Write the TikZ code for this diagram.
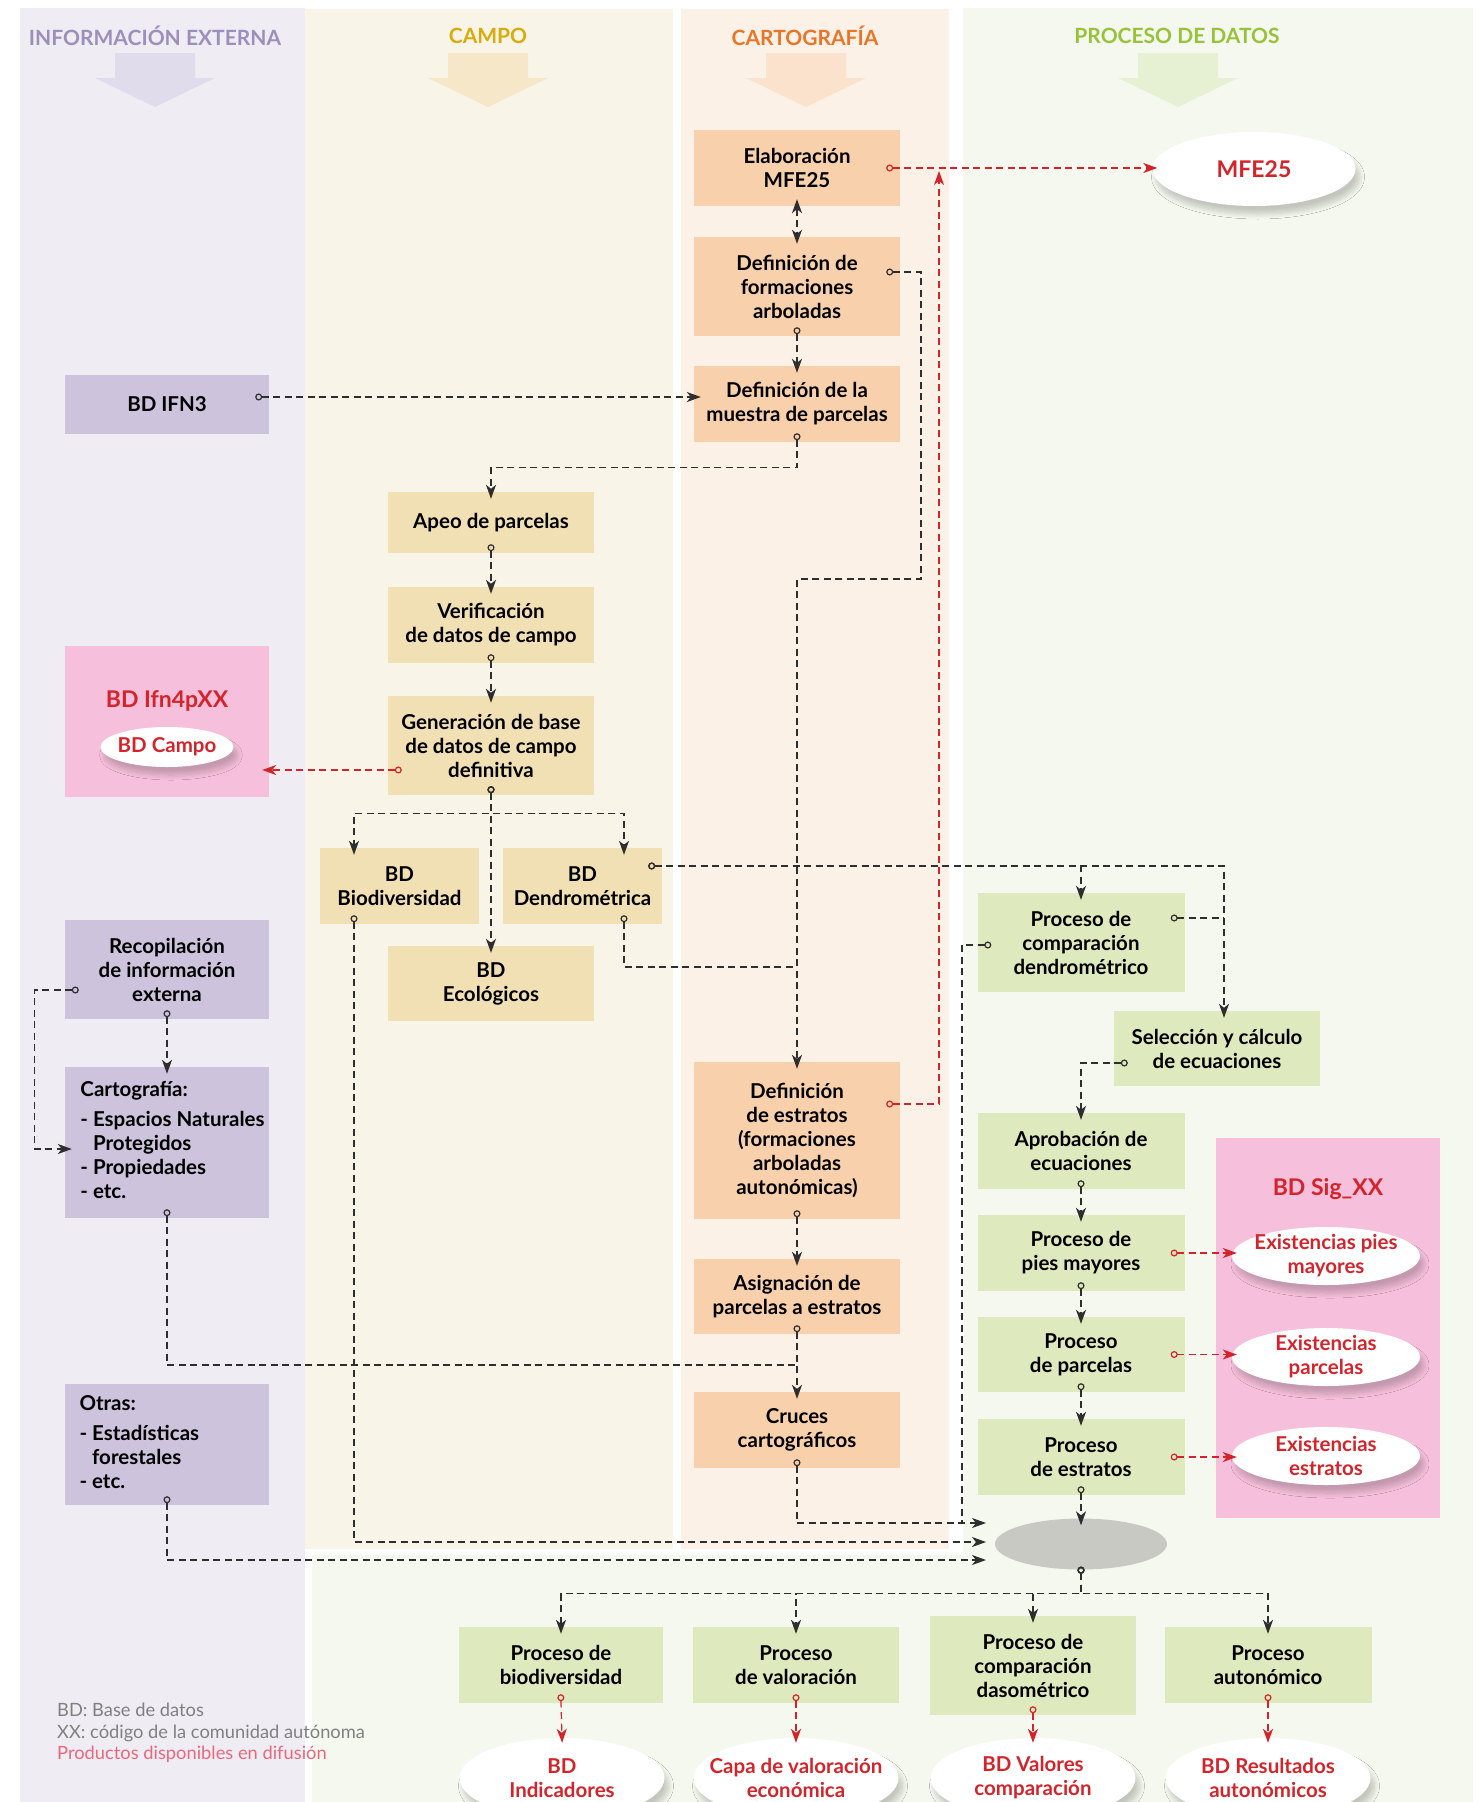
\documentclass[tikz,border=0pt]{standalone}
\usepackage{fontspec}
\setmainfont{Lato}
\usepackage{xcolor}
\usepackage{tikz}
\usetikzlibrary{
  shapes.geometric, arrows.meta, positioning, calc, shadows.blur
}

\definecolor{infobg}{HTML}{EFECF3}
\definecolor{campobg}{HTML}{F9F4E8}
\definecolor{cartobg}{HTML}{FCF1E7}
\definecolor{procbg}{HTML}{F5F8EE}
\definecolor{infofill}{HTML}{CEC3DC}
\definecolor{campofill}{HTML}{F2E0B5}
\definecolor{cartofill}{HTML}{F8D0AB}
\definecolor{procfill}{HTML}{DFE9BE}
\definecolor{pinkfill}{HTML}{F6BFDB}
\definecolor{prodred}{HTML}{D3242B}
\definecolor{notered}{HTML}{E8697C}
\definecolor{notegray}{HTML}{808080}
\definecolor{grayoval}{HTML}{C9C9C4}
\definecolor{infohead}{HTML}{9D8FBB}
\definecolor{campohead}{HTML}{D8AC0C}
\definecolor{cartohead}{HTML}{E8762A}
\definecolor{prochead}{HTML}{98C23A}
\definecolor{infoarrow}{HTML}{E1DCEB}
\definecolor{campoarrow}{HTML}{F5E7C7}
\definecolor{cartoarrow}{HTML}{FBE2CC}
\definecolor{procarrow}{HTML}{E6F0D3}
\definecolor{linkgray}{HTML}{2E2E2E}

\newcommand{\boxfont}{\fontsize{20.5}{24}\selectfont\bfseries}
\newcommand{\titlefont}{\fontsize{23}{27}\selectfont\bfseries}
\newcommand{\headfont}{\fontsize{21}{25}\selectfont\bfseries}
\newcommand{\notefont}{\fontsize{18.3}{21.5}\selectfont}

\tikzset{
  flowdot/.tip={Circle[open,length=7pt,width=7pt]},
  flowtip/.tip={Stealth[length=14pt,width=10pt,inset=4pt]},
  lanebox/.style={
    rectangle, align=center, font=\boxfont, inner sep=2pt,
    minimum width=206pt
  },
  infobox/.style={lanebox, fill=infofill, minimum width=204pt},
  campobox/.style={lanebox, fill=campofill},
  cartobox/.style={lanebox, fill=cartofill},
  procbox/.style={lanebox, fill=procfill},
  pinkbox/.style={rectangle, fill=pinkfill, inner sep=0pt},
  pinktitle/.style={font=\titlefont, text=prodred},
  prodoval/.style={
    ellipse, fill=white, text=prodred, align=center, font=\boxfont,
    inner xsep=-30pt, inner ysep=-12pt,
    blur shadow={shadow xshift=4pt, shadow yshift=-8pt,
      shadow blur radius=5pt, shadow blur steps=10, shadow opacity=20}
  },
  lanehead/.style={font=\headfont},
  flowline/.style={
    draw=linkgray, line width=1.2pt, dash pattern=on 7pt off 4.5pt,
    flowdot-, shorten <=-9pt
  },
  flowarrow/.style={flowline, flowdot-flowtip, shorten >=-7pt},
  prodarrow/.style={flowarrow, draw=prodred},
  sidestart/.style={shorten <=-14pt},
  freeend/.style={shorten >=0pt},
  intooval/.style={shorten >=-5pt},
}

\begin{document}
\begin{tikzpicture}[x=1pt, y=-1pt]
  \useasboundingbox (0,0) rectangle (1478,1802);
  \clip (0,0) rectangle (1478,1802);

  % --- Lanes ---
  \fill[infobg] (20,8) rectangle (305,1802);
  \fill[campobg] (305,9) rectangle (673,1549);
  \fill[cartobg] (681,9) rectangle (949,1549);
  \fill[procbg] (963,8) -- (1473,8) -- (1473,1802) -- (312,1802)
    -- (312,1555) -- (963,1555) -- cycle;

  \node[lanehead, text=infohead] (hinfo) at (155,36) {INFORMACIÓN EXTERNA};
  \node[lanehead, text=campohead] (hcampo) at (488,36) {CAMPO};
  \node[lanehead, text=cartohead] (hcarto) at (805,36) {CARTOGRAFÍA};
  \node[lanehead, text=prochead] (hproc) at (1177,36) {PROCESO DE DATOS};

  \fill[infoarrow] (115,53) -- ++(80,0) -- ++(0,25) -- ++(20,0) -- ++(-60,29)
    -- ++(-60,-29) -- ++(20,0) -- cycle;
  \fill[campoarrow] (448,53) -- ++(80,0) -- ++(0,25) -- ++(20,0) -- ++(-60,29)
    -- ++(-60,-29) -- ++(20,0) -- cycle;
  \fill[cartoarrow] (766,53) -- ++(80,0) -- ++(0,25) -- ++(20,0) -- ++(-60,29)
    -- ++(-60,-29) -- ++(20,0) -- cycle;
  \fill[procarrow] (1138,53) -- ++(80,0) -- ++(0,25) -- ++(20,0) -- ++(-60,29)
    -- ++(-60,-29) -- ++(20,0) -- cycle;

  % --- Información externa ---
  \node[infobox, minimum height=59pt] (ifn3) at (167,404) {BD IFN3};
  \node[pinkbox, minimum width=204pt, minimum height=151pt] (ifn4) at (167,721.5) {};
  \node[pinktitle] (ifn4t) at (167,701) {BD Ifn4pXX};
  \node[prodoval, minimum width=133pt, minimum height=40pt] (campodb) at (167,747) {BD Campo};
  \node[infobox, minimum height=99pt] (recop) at (167,969.5) {Recopilación\\de información\\externa};
  \node[infobox, minimum height=151pt] (cartoext) at (167,1142.5)
    {\begin{tabular}{@{\hspace{11pt}}l@{}}
    Cartografía:\\[6pt]
    - Espacios Naturales\\
    \hphantom{- }Protegidos\\
    - Propiedades\\
    - etc.
    \end{tabular}};
  \node[infobox, minimum height=121pt] (otras) at (167,1444.5)
    {\begin{tabular}{@{\hspace{11pt}}p{186pt}@{}}
    Otras:\\[6pt]
    - Estadísticas\\
    \hphantom{- }forestales\\
    - etc.
    \end{tabular}};

  % --- Campo ---
  \node[campobox, minimum height=61pt] (apeo) at (491,522.5) {Apeo de parcelas};
  \node[campobox, minimum height=76pt] (verif) at (491,625) {Verificación\\de datos de campo};
  \node[campobox, minimum height=99pt] (gener) at (491,745.5) {Generación de base\\de datos de campo\\definitiva};
  \node[campobox, minimum width=159pt, minimum height=76pt] (biodiv) at (399.5,886) {BD\\Biodiversidad};
  \node[campobox, minimum width=159pt, minimum height=76pt] (dendro) at (582.5,886) {BD\\Dendrométrica};
  \node[campobox, minimum height=75pt] (ecolog) at (491,983.5) {BD\\Ecológicos};

  % --- Cartografía ---
  \node[cartobox, minimum height=76pt] (elab) at (797,168) {Elaboración\\MFE25};
  \node[cartobox, minimum height=99pt] (defform) at (797,286.5) {Definición de\\formaciones\\arboladas};
  \node[cartobox, minimum height=76pt] (defmuestra) at (797,404) {Definición de la\\muestra de parcelas};
  \node[cartobox, minimum height=157pt] (defestr) at (797,1140.5)
    {Definición\\de estratos\\(formaciones\\arboladas\\autonómicas)};
  \node[cartobox, minimum height=75pt] (asign) at (797,1296.5) {Asignación de\\parcelas a estratos};
  \node[cartobox, minimum height=76pt] (cruces) at (797,1430) {Cruces\\cartográficos};

  % --- Proceso de datos ---
  \node[prodoval, font=\titlefont, minimum width=203pt, minimum height=74pt] (mfe) at (1254,169) {MFE25};
  \node[procbox, minimum width=207pt, minimum height=99pt] (compdendro) at (1081,942.5)
    {Proceso de\\comparación\\dendrométrico};
  \node[procbox, minimum height=75pt] (selec) at (1217,1048.5) {Selección y cálculo\\de ecuaciones};
  \node[procbox, minimum width=207pt, minimum height=76pt] (aprob) at (1081,1151) {Aprobación de\\ecuaciones};
  \node[procbox, minimum width=207pt, minimum height=76pt] (pies) at (1081,1253) {Proceso de\\pies mayores};
  \node[procbox, minimum width=207pt, minimum height=75pt] (parc) at (1081,1354.5) {Proceso\\de parcelas};
  \node[procbox, minimum width=207pt, minimum height=76pt] (estr) at (1081,1457) {Proceso\\de estratos};
  \node[ellipse, fill=grayoval, minimum width=172pt, minimum height=51pt, inner sep=0pt] (merge) at (1081,1544) {};

  \node[pinkbox, minimum width=224pt, minimum height=380pt] (sig) at (1328,1328) {};
  \node[pinktitle] (sigt) at (1328,1189) {BD Sig\_XX};
  \node[prodoval, minimum width=188pt, minimum height=58pt] (expies) at (1326,1256) {Existencias pies\\mayores};
  \node[prodoval, minimum width=188pt, minimum height=58pt] (exparc) at (1326,1357) {Existencias\\parcelas};
  \node[prodoval, minimum width=188pt, minimum height=58pt] (exestr) at (1326,1456) {Existencias\\estratos};

  \node[procbox, minimum width=204pt, minimum height=76pt] (pbio) at (561,1665) {Proceso de\\biodiversidad};
  \node[procbox, minimum height=76pt] (pval) at (796,1665) {Proceso\\de valoración};
  \node[procbox, minimum height=99pt] (pdas) at (1033,1665.5) {Proceso de\\comparación\\dasométrico};
  \node[procbox, minimum width=207pt, minimum height=76pt] (paut) at (1268,1665) {Proceso\\autonómico};

  \node[prodoval, minimum width=205pt, minimum height=80pt] (obio) at (562,1778) {BD\\Indicadores};
  \node[prodoval, minimum width=205pt, minimum height=80pt] (oval) at (796,1778) {Capa de valoración\\económica};
  \node[prodoval, minimum width=205pt, minimum height=80pt] (odas) at (1033,1778) {BD Valores\\comparación};
  \node[prodoval, minimum width=205pt, minimum height=80pt] (oaut) at (1268,1778) {BD Resultados\\autonómicos};

  % --- Notes ---
  \node[font=\notefont, text=notegray, align=left, anchor=west, inner sep=0pt] (notes) at (57,1733)
    {BD: Base de datos\\XX: código de la comunidad autónoma\\
    \textcolor{notered}{Productos disponibles en difusión}};

  % --- Join points ---
  \coordinate (redup) at (939,171);
  \coordinate (jogform) at (921,579);
  \coordinate (mergeden) at (797,967);
  \coordinate (mergecar) at (797,1365);
  \coordinate (mergecmp) at (962,1523);
  \coordinate (tipa) at (986,1523);
  \coordinate (tipb) at (986,1542);
  \coordinate (tipc) at (986,1560);
  \coordinate (genleft) at ([yshift=-24.5pt]gener.west);
  \coordinate (denright) at ([yshift=20pt]dendro.east);
  \coordinate (cmpright) at ([yshift=24.5pt]compdendro.east);
  \coordinate (selin) at ([xshift=7pt]selec.north);

  % --- Connectors ---
  \draw[flowarrow, flowtip-flowtip, shorten <=-7pt] (elab.south) -- (defform.north);
  \draw[flowarrow] (defform.south) -- (defmuestra.north);
  \draw[flowarrow, sidestart] ([yshift=7pt]ifn3.east) -- ([yshift=7pt]defmuestra.west);
  \draw[prodarrow, sidestart, intooval] (elab.east) -- (elab.east -| mfe.west);
  \draw[prodarrow, sidestart, freeend] ([yshift=36.5pt]defestr.east) -| (redup);
  \draw[flowarrow, sidestart] ([yshift=14.5pt]defform.east) -| (jogform) -| (defestr.north);
  \draw[flowarrow] (defmuestra.south) -- ++(0,25) -| (apeo.north);

  \draw[flowarrow] (apeo.south) -- (verif.north);
  \draw[flowarrow] (verif.south) -- (gener.north);
  \draw[prodarrow, sidestart] (genleft) -- (genleft -| ifn4.east);
  \draw[flowarrow] (gener.south) -- ++(0,18) -| ([xshift=-45.5pt]biodiv.north);
  \draw[flowarrow] (gener.south) -- ++(0,18) -| ([xshift=41.5pt]dendro.north);
  \draw[flowarrow] (gener.south) -- (ecolog.north);

  \draw[flowarrow, sidestart] (denright) -| (compdendro.north);
  \draw[flowarrow, sidestart] (denright) -| (selin);
  \draw[flowline, sidestart] (cmpright) -- (cmpright -| selin);
  \draw[flowline] ([xshift=41.5pt]dendro.south) |- (mergeden);
  \draw[flowarrow, sidestart] ([yshift=-14.5pt]selec.west) -| (aprob.north);
  \draw[flowline, sidestart] ([yshift=-2.5pt]compdendro.west) -| (mergecmp);

  \draw[flowarrow] (recop.south) -- (cartoext.north);
  \draw[flowarrow, sidestart] ([yshift=-20.5pt]recop.west) -- ++(-30,0) |- ([yshift=-6.5pt]cartoext.west);
  \draw[flowline] (cartoext.south) |- (mergecar);

  \draw[flowarrow] (defestr.south) -- (asign.north);
  \draw[flowarrow] (asign.south) -- (cruces.north);
  \draw[flowarrow, freeend] (cruces.south) |- (tipa);
  \draw[flowarrow, freeend] ([xshift=-45.5pt]biodiv.south) |- (tipb);
  \draw[flowarrow, freeend] (otras.south) |- (tipc);

  \draw[flowarrow] (aprob.south) -- (pies.north);
  \draw[flowarrow] (pies.south) -- (parc.north);
  \draw[flowarrow] (parc.south) -- (estr.north);
  \draw[flowarrow] (estr.south) -- (merge.north);
  \draw[prodarrow, sidestart, intooval] (pies.east) -- (pies.east -| expies.west);
  \draw[prodarrow, sidestart, intooval] (parc.east) -- (parc.east -| exparc.west);
  \draw[prodarrow, sidestart, intooval] (estr.east) -- (estr.east -| exestr.west);

  \draw[flowarrow, shorten <=-3pt] (merge.south) -- ++(0,24) -| (pbio.north);
  \draw[flowarrow, shorten <=-3pt] (merge.south) -- ++(0,24) -| (pval.north);
  \draw[flowarrow, shorten <=-3pt] (merge.south) -- ++(0,24) -| (pdas.north);
  \draw[flowarrow, shorten <=-3pt] (merge.south) -- ++(0,24) -| (paut.north);

  \draw[prodarrow, intooval] (pbio.south) -- (obio.north);
  \draw[prodarrow, intooval] (pval.south) -- (oval.north);
  \draw[prodarrow, intooval] (pdas.south) -- (odas.north);
  \draw[prodarrow, intooval] (paut.south) -- (oaut.north);

\end{tikzpicture}
\end{document}
